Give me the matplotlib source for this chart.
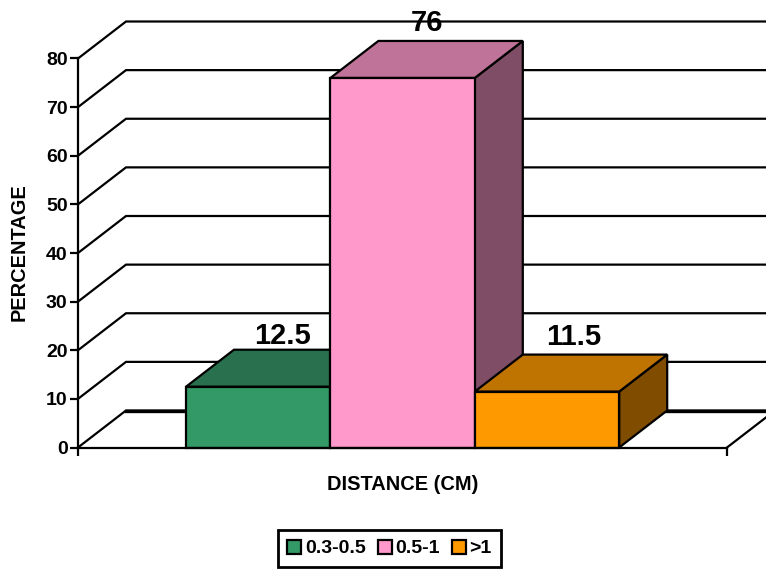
import matplotlib
matplotlib.use('Agg')
from matplotlib import pyplot as plt
from matplotlib.patches import Patch, Polygon

plt.rcParams['font.family'] = ['Liberation Sans', 'DejaVu Sans']
plt.rcParams['font.weight'] = 'bold'

# chart values
categories = ['0.3-0.5', '0.5-1', '>1']
values = [12.5, 76, 11.5]
y_ticks = [0, 10, 20, 30, 40, 50, 60, 70, 80]

front_colors = ['#339966', '#FF99CC', '#FF9900']
top_colors = ['#29704F', '#BF7399', '#BF7300']
side_colors = ['#1A4D33', '#804D66', '#804D00']

W, H = 766, 569
x0, x1 = 78, 727
y_bot, y_top = 447.5, 58.5

fig = plt.figure(figsize=(W / 100, H / 100), dpi=100, facecolor='w')
ax = fig.add_axes([x0 / W, 1 - y_bot / H, (x1 - x0) / W, (y_bot - y_top) / H])
ax.set_xlim(0, 1)
ax.set_ylim(0, 80)
ax.patch.set_visible(False)

# depth of the fake 3d box, in data units
dx = 48 / (x1 - x0)
dy = 37 / ((y_bot - y_top) / 80)
bar_w = 144.4 / (x1 - x0)
bar_start = (186 - x0) / (x1 - x0)
lw = 1.6
label_gap = [2.9, 3.7, 3.7]
label_shift = [0, 0.001, 0.004]

for t in y_ticks:
    ax.plot([0, dx, 1 + dx], [t, t + dy, t + dy], color='k', lw=lw, clip_on=False,
            solid_joinstyle='miter', zorder=1)
ax.plot([dx, 1 + dx], [dy, dy], color='k', lw=lw + 0.8, clip_on=False, zorder=1)
ax.plot([1, 1 + dx], [0, dy], color='k', lw=lw, clip_on=False, zorder=1)

for i in range(len(values)):
    left = bar_start + i * bar_w
    right = left + bar_w
    v = values[i]
    front = [(left, 0), (right, 0), (right, v), (left, v)]
    top = [(left, v), (right, v), (right + dx, v + dy), (left + dx, v + dy)]
    side = [(right, 0), (right + dx, dy), (right + dx, v + dy), (right, v)]
    z = 3 + i
    ax.add_patch(Polygon(side, facecolor=side_colors[i], edgecolor='k', lw=lw, clip_on=False, zorder=z))
    ax.add_patch(Polygon(top, facecolor=top_colors[i], edgecolor='k', lw=lw, clip_on=False, zorder=z))
    ax.add_patch(Polygon(front, facecolor=front_colors[i], edgecolor='k', lw=lw, clip_on=False, zorder=z))
    ax.text(left + bar_w / 2 + dx / 2 + label_shift[i], v + dy + label_gap[i], str(v),
            ha='center', va='center', fontsize=21, fontweight='bold', zorder=10, clip_on=False)

for s in ['top', 'right']:
    ax.spines[s].set_visible(False)
for s in ['left', 'bottom']:
    ax.spines[s].set_linewidth(lw)
    ax.spines[s].set_zorder(8)

ax.set_yticks(y_ticks)
ax.set_xticks([0, 1])
ax.set_xticklabels([])
ax.tick_params(axis='both', width=lw, length=5.5, labelsize=14, pad=2)

fig.text(403 / W, 1 - 485 / H, 'DISTANCE (CM)', ha='center', va='center', fontsize=14.4)
fig.text(19 / W, 1 - 252 / H, 'PERCENTAGE', rotation=90, ha='center', va='center', fontsize=14.4)

handles = [Patch(facecolor=front_colors[i], edgecolor='k', lw=lw) for i in range(len(values))]
leg = fig.legend(handles, categories, loc='center', bbox_to_anchor=(389.5 / W, 1 - 548.5 / H),
                 ncol=3, fontsize=14, frameon=True, fancybox=False, framealpha=1,
                 edgecolor='k', handlelength=0.72, handleheight=0.72, handletextpad=0.2,
                 columnspacing=0.6, borderpad=0.5, borderaxespad=0)
leg.get_frame().set_linewidth(2)

fig.savefig('out.png', dpi=100)
plt.close()
